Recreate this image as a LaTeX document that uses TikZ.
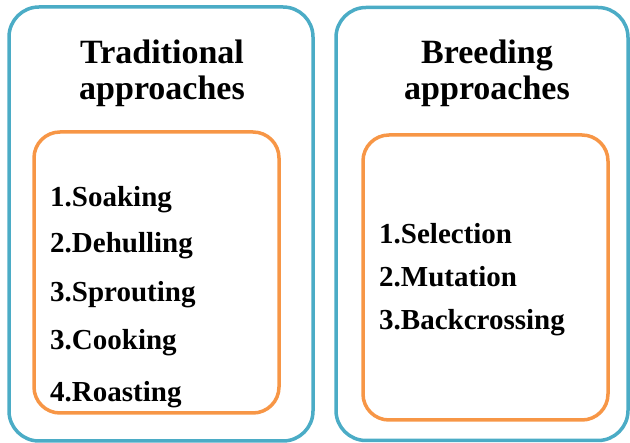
\documentclass[tikz,border=0pt]{standalone}
\usepackage{fontspec}
\setmainfont{Liberation Serif}
\usetikzlibrary{positioning}
\definecolor{frameblue}{HTML}{4BACC6}
\definecolor{frameorange}{HTML}{F79646}

\begin{document}
\begin{tikzpicture}[x=1pt, y=-1pt,
    outerbox/.style = {draw=frameblue, line width=3.5pt, rounded corners=30pt, inner sep=0pt},
    innerbox/.style = {draw=frameorange, line width=3.5pt, rounded corners=26pt, inner sep=0pt, minimum width=245pt},
    heading/.style = {font=\fontsize{34}{36}\selectfont\bfseries, align=center, inner sep=0pt, anchor=base},
    item/.style = {font=\fontsize{29}{34}\selectfont\bfseries, inner sep=0pt, anchor=base west}]
    \useasboundingbox (0,0) rectangle (630,443);

    \node[outerbox, minimum width=304pt, minimum height=434pt] (trad) at (161,224) {};
    \node[outerbox, minimum width=292pt, minimum height=433pt] (breed) at (482,224) {};
    \node[innerbox, minimum height=281pt] (tradlist) at (156.5,272.5) {};
    \node[innerbox, minimum height=285pt] (breedlist) at (485.5,277.5) {};

    \node[heading] (tradtitle) at (162,100) {Traditional\\approaches};
    \node[heading] (breedtitle) at (487,100) {Breeding\\approaches};

    \node[item] (soak) at (50,207) {1.Soaking};
    \node[item] (dehull) at (50,253) {2.Dehulling};
    \node[item] (sprout) at (50,302) {3.Sprouting};
    \node[item] (cook) at (50,350) {3.Cooking};
    \node[item] (roast) at (50,402) {4.Roasting};

    \node[item] (select) at (379,244) {1.Selection};
    \node[item] (mutate) at (379,287) {2.Mutation};
    \node[item] (backcross) at (379,330) {3.Backcrossing};
\end{tikzpicture}
\end{document}
